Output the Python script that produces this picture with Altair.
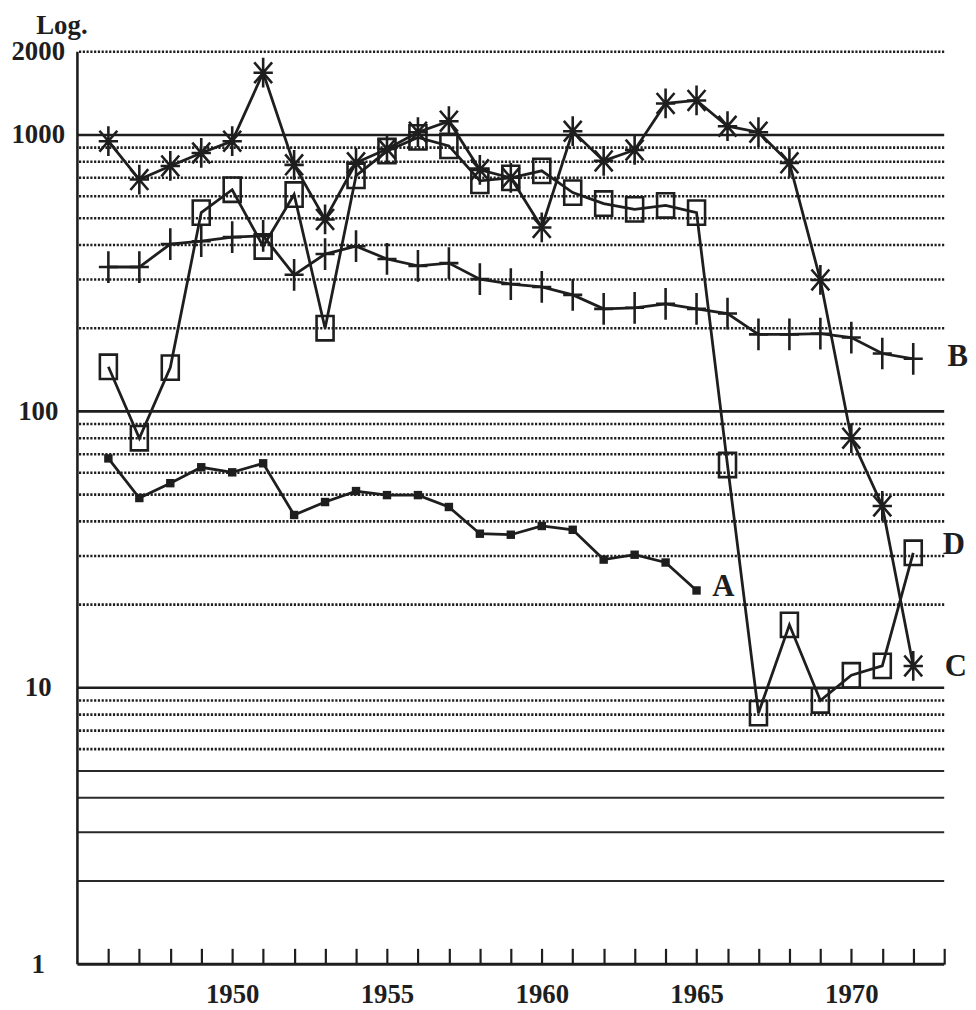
import altair as alt
import pandas as pd

# ---------------- data ----------------
years_a = list(range(1946, 1966))
series_a = [67.6, 48.6, 55, 62.8, 60.2, 64.9, 42.2, 47.0, 51.5, 49.8,
            49.8, 45.1, 36.1, 35.8, 38.5, 37.3, 29.1, 30.3, 28.4, 22.5]

years_bcd = list(range(1946, 1973))
series_b = [333, 333, 403, 413, 427, 432, 312, 371, 396, 356,
            336, 344, 301, 289, 282, 264, 235, 237, 245, 235,
            226, 190, 190, 191, 185, 162, 155]
series_c = [950, 690, 773, 861, 950, 1680, 780, 495, 793, 890,
            1024, 1122, 748, 700, 463, 1032, 806, 883, 1301, 1334,
            1076, 1024, 793, 299, 80, 45.5, 12]
series_d = [145, 80, 144, 524, 634, 395, 609, 200, 712, 875,
            980, 913, 683, 700, 742, 619, 565, 538, 556, 524,
            64, 8.1, 16.9, 9.0, 11.1, 12.0, 30.8]

grid_dotted = [2000, 900, 800, 700, 600, 500, 400, 300, 200,
               90, 80, 70, 60, 50, 40, 30, 20, 9, 8, 7, 6]
grid_major = [1000, 100, 10]
grid_minor = [5, 4, 3, 2]

y_tick_values = [1, 10, 100, 1000, 2000]
x_tick_values = list(range(1946, 1974))

# ---------------- tables ----------------
df_a = pd.DataFrame({"year": years_a, "value": series_a})
df_b = pd.DataFrame({"year": years_bcd, "value": series_b})
df_c = pd.DataFrame({"year": years_bcd, "value": series_c})
df_d = pd.DataFrame({"year": years_bcd, "value": series_d})

FONT = "Liberation Serif"
INK = "#1e1e1e"

xs = alt.Scale(domain=[1945, 1973], nice=False, zero=False)
ys = alt.Scale(type="log", domain=[1, 2000], nice=False)

X_AXIS = alt.Axis(values=x_tick_values, format="d", title=None,
                  labelExpr="datum.value % 5 == 0 ? datum.label : ''",
                  offset=-16, tickSize=16, tickWidth=2.2, tickColor=INK,
                  domain=False, grid=False, labelOverlap=False,
                  labelFlush=False, labelPadding=18, labelBound=False,
                  labelFont=FONT, labelFontSize=27, labelFontWeight="bold",
                  labelColor=INK)
Y_AXIS = alt.Axis(values=y_tick_values, format="d", title="Log.",
                  titleAngle=0, titleX=-42, titleY=-18, titleAlign="left",
                  titleBaseline="alphabetic",
                  titleFont=FONT, titleFontSize=27, titleFontWeight="bold",
                  titleColor=INK,
                  tickSize=0, domain=False, grid=False,
                  labelAlign="center", labelBaseline="middle",
                  labelPadding=40, labelOverlap=False, labelFlush=False,
                  labelBound=False,
                  labelFont=FONT, labelFontSize=27, labelFontWeight="bold",
                  labelColor=INK)

X = alt.X("year:Q", scale=xs, axis=X_AXIS)
Y = alt.Y("value:Q", scale=ys, axis=Y_AXIS)

# grid lines
g_dot = alt.Chart(pd.DataFrame({"value": grid_dotted})).mark_rule(
    color=INK, strokeWidth=2.6, strokeDash=[2.2, 1.6]
).encode(y=Y)
g_major = alt.Chart(pd.DataFrame({"value": grid_major})).mark_rule(
    color=INK, strokeWidth=2.6
).encode(y=Y)
g_minor = alt.Chart(pd.DataFrame({"value": grid_minor})).mark_rule(
    color="#2a2a2a", strokeWidth=2.0
).encode(y=Y)

# frame lines (left and bottom)
left_line = alt.Chart(pd.DataFrame({"year": [1945]})).mark_rule(
    color=INK, strokeWidth=2.6
).encode(x=X)
bottom_line = alt.Chart(pd.DataFrame({"value": [1]})).mark_rule(
    color=INK, strokeWidth=3.0
).encode(y=Y)

STAR = "M0,-1V1M-0.65,0H0.65M-0.6,-0.7L0.6,0.7M-0.6,0.7L0.6,-0.7"
PLUS = "M0,-1V1M-0.6,0H0.6"
RECT = "M-0.7,-1H0.7V1H-0.7Z"


def series(df, shape, size, filled=False):
    line = alt.Chart(df).mark_line(color=INK, strokeWidth=2.8).encode(x=X, y=Y)
    pts = alt.Chart(df).mark_point(
        shape=shape, size=size, filled=filled, color=INK,
        strokeWidth=2.6, opacity=1
    ).encode(x=X, y=Y)
    return line + pts


layer_a = series(df_a, "square", 72, filled=True)
layer_b = series(df_b, PLUS, 1024)
layer_c = series(df_c, STAR, 900)
layer_d = series(df_d, RECT, 600)


def label(df, text, dx, dy):
    last = df.tail(1).assign(name=text)
    return alt.Chart(last).mark_text(
        font=FONT, fontSize=31, fontWeight="bold", color=INK,
        align="center", baseline="middle", dx=dx, dy=dy
    ).encode(x=X, y=Y, text="name:N")


labels = (label(df_a, "A", 27, -3) + label(df_b, "B", 45, -2)
          + label(df_c, "C", 43, 1) + label(df_d, "D", 41, -8))

chart = alt.layer(
    g_dot, g_major, g_minor, left_line, bottom_line,
    layer_a, layer_b, layer_c, layer_d, labels
).properties(
    width=874, height=920,
    padding={"left": 70, "top": 40, "right": 24, "bottom": 42},
    autosize=alt.AutoSizeParams(type="none"),
    background="white",
).configure_view(stroke=None).configure_axisX(labelOverlap=False)

chart.save("out.html", embed_options={"renderer": "svg", "actions": False})
